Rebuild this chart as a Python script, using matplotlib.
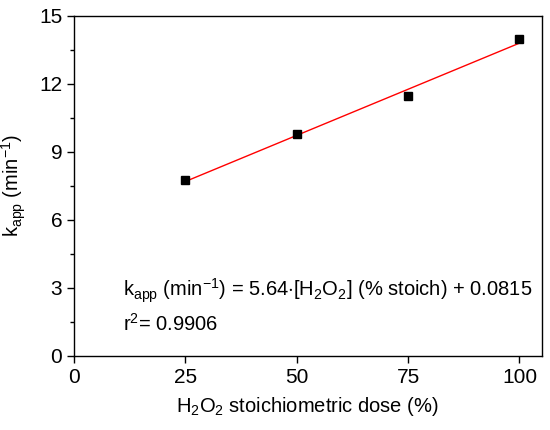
import numpy as np
import matplotlib
matplotlib.use("Agg")
import matplotlib.pyplot as plt
from matplotlib.ticker import MultipleLocator

plt.rcParams['font.family'] = ['Liberation Sans', 'DejaVu Sans']
plt.rcParams['mathtext.fontset'] = 'custom'
plt.rcParams['mathtext.rm'] = 'Liberation Sans'
plt.rcParams['mathtext.it'] = 'Liberation Sans:italic'

# data
dose = [25, 50, 75, 100]
k_app = [7.75, 9.77, 11.46, 13.97]

# linear fit of the points
slope, intercept = np.polyfit(dose, k_app, 1)
fit_x = np.array([dose[0], dose[-1]])
fit_y = slope * fit_x + intercept

fig = plt.figure(figsize=(5.5, 4.3), dpi=100)
ax = fig.add_axes([0.1345, 0.1728, 0.8505, 0.7907])

ax.plot(fit_x, fit_y, color='red', lw=1.0, zorder=2)
ax.plot(dose, k_app, 's', color='black', ms=6, zorder=3)

ax.set_xlim(0, 105)
ax.set_ylim(0, 15)
ax.set_xticks([0, 25, 50, 75, 100])
ax.set_yticks([0, 3, 6, 9, 12, 15])
ax.yaxis.set_minor_locator(MultipleLocator(1.5))
ax.tick_params(which='major', direction='out', length=5, width=1, labelsize=15)
ax.tick_params(which='minor', direction='out', length=3, width=1)
for s in ax.spines.values():
    s.set_linewidth(1)

ax.set_xlabel(r'H$_2$O$_2$ stoichiometric dose (%)', fontsize=14.5, labelpad=6)
ax.set_ylabel(r'k$_{\rm app}$ (min$^{-1}$)', fontsize=14.5, labelpad=8)

ax.text(11, 2.6, r'k$_{\rm app}$ (min$^{-1}$) = 5.64$\cdot$[H$_2$O$_2$] (% stoich) + 0.0815',
        fontsize=14.5, va='baseline')
ax.text(11, 1.1, r'r$^2$= 0.9906', fontsize=14.5, va='baseline')

fig.savefig('out.png', dpi=100)
